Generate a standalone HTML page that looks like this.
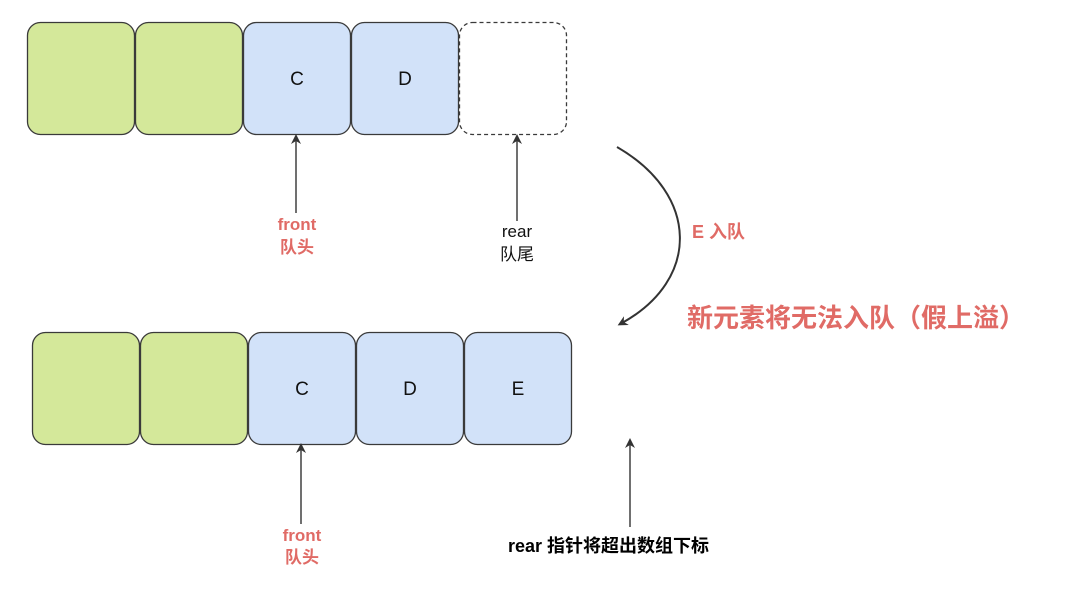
<!DOCTYPE html>
<html><head><meta charset="utf-8"><style>
html,body{margin:0;padding:0;background:#fff;width:1080px;height:611px;overflow:hidden}
svg{display:block}
text{font-family:"Liberation Sans","Noto Sans CJK SC",sans-serif}
</style></head><body>
<svg width="1080" height="611" viewBox="0 0 1080 611" xmlns="http://www.w3.org/2000/svg">
<defs>
<marker id="a" markerWidth="10" markerHeight="10" refX="5" refY="5" orient="auto" markerUnits="userSpaceOnUse">
<path d="M0,0 L10,5 L0,10 L3,5 Z" fill="#333"/>
</marker>
</defs>
<g stroke="#3a3a3a" stroke-width="1.3">
<rect x="27.5" y="22.5" width="107" height="112" rx="13" fill="#d4e89a"/>
<rect x="135.5" y="22.5" width="107" height="112" rx="13" fill="#d4e89a"/>
<rect x="243.5" y="22.5" width="107" height="112" rx="13" fill="#d2e2f9"/>
<rect x="351.5" y="22.5" width="107" height="112" rx="13" fill="#d2e2f9"/>
<rect x="459.5" y="22.5" width="107" height="112" rx="13" fill="#fff" stroke-dasharray="4,3"/>
<rect x="32.5" y="332.5" width="107" height="112" rx="13" fill="#d4e89a"/>
<rect x="140.5" y="332.5" width="107" height="112" rx="13" fill="#d4e89a"/>
<rect x="248.5" y="332.5" width="107" height="112" rx="13" fill="#d2e2f9"/>
<rect x="356.5" y="332.5" width="107" height="112" rx="13" fill="#d2e2f9"/>
<rect x="464.5" y="332.5" width="107" height="112" rx="13" fill="#d2e2f9"/>
</g>
<g font-size="19" fill="#111" text-anchor="middle">
<text x="297" y="85">C</text><text x="405" y="85">D</text>
<text x="302" y="395">C</text><text x="410" y="395">D</text><text x="518" y="395">E</text>
</g>
<g stroke="#333" stroke-width="1.4" fill="none">
<line x1="296" y1="213" x2="296" y2="139" marker-end="url(#a)"/>
<line x1="517" y1="221" x2="517" y2="139" marker-end="url(#a)"/>
<line x1="301" y1="524" x2="301" y2="448" marker-end="url(#a)"/>
<line x1="630" y1="527" x2="630" y2="443" marker-end="url(#a)"/>
<path d="M617,147 C700,195 700,280 622,323" stroke-width="2" marker-end="url(#a)"/>
</g>
<g font-size="17" font-weight="bold" fill="#e06b66" text-anchor="middle">
<text x="297" y="230">front</text><text x="297" y="253">队头</text>
<text x="302" y="541">front</text><text x="302" y="563">队头</text>
</g>
<g font-size="17" fill="#111" text-anchor="middle">
<text x="517" y="237">rear</text><text x="517" y="260">队尾</text>
</g>
<text x="508" y="552" font-size="18" font-weight="bold" fill="#000">rear 指针将超出数组下标</text>
<text x="692" y="238" font-size="18" font-weight="bold" fill="#e06b66">E 入队</text>
<text x="687" y="327" font-size="26" font-weight="bold" fill="#e06b66">新元素将无法入队（假上溢）</text>
</svg>
</body></html>
